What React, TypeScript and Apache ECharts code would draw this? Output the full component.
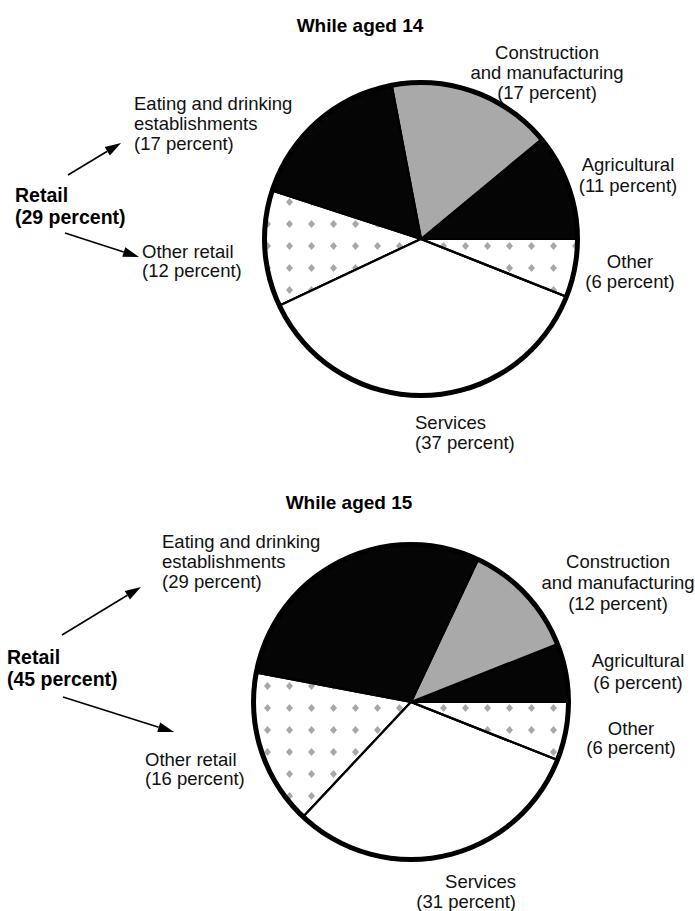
import React, { useEffect, useRef } from 'react';
import * as echarts from 'echarts';

// ---- data ----
const categories = [
  'Agricultural',
  'Construction and manufacturing',
  'Eating and drinking establishments',
  'Other retail',
  'Services',
  'Other',
];
const labelNames = [
  'Agricultural',
  'Construction\nand manufacturing',
  'Eating and drinking\nestablishments',
  'Other retail',
  'Services',
  'Other',
];
const values14 = [11, 17, 17, 12, 37, 6];
const values15 = [6, 12, 29, 16, 31, 6];
const titles = ['While aged 14', 'While aged 15'];
const retailName = 'Retail';

const FONT = '"Liberation Sans", Arial, Helvetica, sans-serif';

const dotDecal = {
  symbol: 'diamond',
  symbolSize: 1,
  color: 'rgba(130,130,130,0.7)',
  backgroundColor: '#ffffff',
  dashArrayX: [7, 15],
  dashArrayY: [8, 14],
  rotation: 0,
};

const sliceStyles: any[] = [
  { color: '#050505' },
  { color: '#a9a9a9' },
  { color: '#050505' },
  { color: '#ffffff', decal: dotDecal },
  { color: '#ffffff' },
  { color: '#ffffff', decal: dotDecal },
];

type LabelPos = { x: number; y: number; align: string; lh: number };

const layout14 = {
  center: [421, 239],
  r: 157,
  labels: [
    { x: 628, y: 154, align: 'center', lh: 21 },
    { x: 547, y: 42, align: 'center', lh: 20 },
    { x: 134, y: 93, align: 'left', lh: 20 },
    { x: 142, y: 242, align: 'left', lh: 19 },
    { x: 415, y: 412, align: 'left', lh: 20 },
    { x: 630, y: 251, align: 'center', lh: 20 },
  ] as LabelPos[],
  title: [360, 25],
  retail: [15, 195],
  arrows: [
    [68, 175, 121, 143],
    [65, 233, 139, 257],
  ],
};

const layout15 = {
  center: [411, 702],
  r: 158,
  labels: [
    { x: 638, y: 649, align: 'center', lh: 22 },
    { x: 618, y: 551, align: 'center', lh: 21 },
    { x: 162, y: 531, align: 'left', lh: 20 },
    { x: 145, y: 750, align: 'left', lh: 19 },
    { x: 516, y: 871, align: 'right', lh: 20 },
    { x: 631, y: 719, align: 'center', lh: 19 },
  ] as LabelPos[],
  title: [349, 502],
  retail: [7, 657],
  arrows: [
    [62, 635, 141, 587],
    [63, 697, 174, 732],
  ],
};

function pieSeries(values: number[], lay: typeof layout14) {
  const data = values.map((v, i) => ({
    name: categories[i],
    value: v,
    itemStyle: sliceStyles[i],
    label: { lineHeight: lay.labels[i].lh },
  }));
  return [
    {
      type: 'pie',
      center: lay.center,
      radius: [0, lay.r - 1],
      startAngle: 0,
      clockwise: false,
      avoidLabelOverlap: false,
      silent: true,
      itemStyle: { borderColor: '#000', borderWidth: 2.2 },
      label: {
        show: true,
        position: 'outside',
        color: '#111',
        fontFamily: FONT,
        fontSize: 18.5,
        formatter: (p: any) => `${labelNames[p.dataIndex]}\n(${p.value} percent)`,
      },
      labelLine: { show: false },
      labelLayout: (p: any) => {
        const l = lay.labels[p.dataIndex];
        return { x: l.x, y: l.y, align: l.align, verticalAlign: 'top' };
      },
      data,
    },
    {
      type: 'pie',
      center: lay.center,
      radius: [lay.r - 3, lay.r + 2],
      silent: true,
      label: { show: false },
      labelLine: { show: false },
      itemStyle: { color: '#000', borderWidth: 0 },
      data: [{ name: 'ring', value: 1 }],
    },
  ];
}

function arrowGraphics(a: number[]) {
  const [x1, y1, x2, y2] = a;
  const ang = Math.atan2(y2 - y1, x2 - x1);
  const L = 16;
  const W = 5;
  const bx = x2 - L * Math.cos(ang);
  const by = y2 - L * Math.sin(ang);
  const px = -Math.sin(ang) * W;
  const py = Math.cos(ang) * W;
  return [
    {
      type: 'line',
      shape: { x1, y1, x2: bx, y2: by },
      style: { stroke: '#000', lineWidth: 1.6 },
      silent: true,
    },
    {
      type: 'polygon',
      shape: { points: [[x2, y2], [bx + px, by + py], [bx - px, by - py]] },
      style: { fill: '#000' },
      silent: true,
    },
  ];
}

function blockGraphics(values: number[], lay: typeof layout14, title: string) {
  const retailTotal = values[2] + values[3];
  return [
    {
      type: 'text',
      x: lay.title[0],
      y: lay.title[1],
      style: {
        text: title,
        font: `bold 19px ${FONT}`,
        fill: '#000',
        align: 'center',
        verticalAlign: 'middle',
      },
    },
    {
      type: 'text',
      x: lay.retail[0],
      y: lay.retail[1] - 11,
      style: {
        text: `${retailName}\n(${retailTotal} percent)`,
        font: `bold 19.5px ${FONT}`,
        lineHeight: 22,
        fill: '#000',
        align: 'left',
        verticalAlign: 'top',
      },
    },
    ...arrowGraphics(lay.arrows[0]),
    ...arrowGraphics(lay.arrows[1]),
  ];
}

export default function App() {
  const ref = useRef<HTMLDivElement>(null);
  useEffect(() => {
    if (!ref.current) return;
    const chart = echarts.init(ref.current, null, { renderer: 'svg' });
    chart.setOption({
      animation: false,
      backgroundColor: '#ffffff',
      series: [...pieSeries(values14, layout14), ...pieSeries(values15, layout15)],
      graphic: [
        ...blockGraphics(values14, layout14, titles[0]),
        ...blockGraphics(values15, layout15, titles[1]),
      ],
    });
    return () => chart.dispose();
  }, []);
  return (
    <div
      ref={ref}
      style={{ position: 'fixed', left: 0, top: 0, width: 695, height: 911, background: '#fff' }}
    />
  );
}
